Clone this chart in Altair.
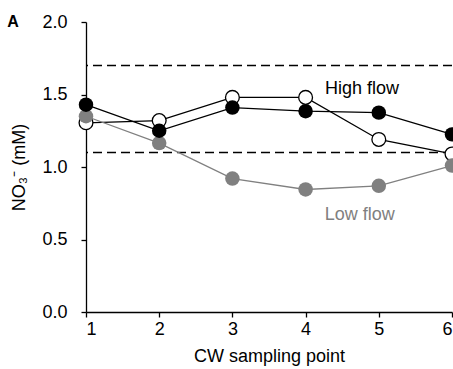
import altair as alt
import pandas as pd

points = [1, 2, 3, 4, 5, 6]
high_filled = [1.43, 1.25, 1.41, 1.385, 1.375, 1.225]
high_open = [1.305, 1.32, 1.48, 1.48, 1.19, 1.09]
low_flow = [1.35, 1.165, 0.92, 0.845, 0.87, 1.01]
thresholds = [1.1, 1.7]
y_ticks = [0.0, 0.5, 1.0, 1.5, 2.0]

FONT = "Liberation Sans"

df_f = pd.DataFrame({"x": points, "y": high_filled})
df_o = pd.DataFrame({"x": points, "y": high_open})
df_l = pd.DataFrame({"x": points, "y": low_flow})
df_t = pd.DataFrame({"y": thresholds})
df_lab = pd.DataFrame({
    "x": [4.77, 4.74],
    "y": [1.535, 0.67],
    "t": ["High flow", "Low flow"],
    "c": ["#000000", "#808080"],
})

xs = alt.Scale(domain=[1, 6], nice=False, zero=False)
ys = alt.Scale(domain=[0, 2], nice=False)

xax = alt.Axis(values=points, format="d", title="CW sampling point", grid=False,
               tickSize=5, labelPadding=3, titlePadding=9)
yax = alt.Axis(values=y_ticks, format=".1f", title="NO₃⁻ (mM)", grid=False,
               tickSize=5, labelPadding=14, titlePadding=13)

X = alt.X("x:Q", scale=xs, axis=xax)
Y = alt.Y("y:Q", scale=ys, axis=yax)

rules = alt.Chart(df_t).mark_rule(color="black", strokeDash=[9, 5], strokeWidth=1.3).encode(
    y=alt.Y("y:Q", scale=ys, axis=yax))

line_l = alt.Chart(df_l).mark_line(color="#808080", strokeWidth=1.3).encode(x=X, y=Y)
line_o = alt.Chart(df_o).mark_line(color="black", strokeWidth=1.3).encode(x=X, y=Y)
line_f = alt.Chart(df_f).mark_line(color="black", strokeWidth=1.3).encode(x=X, y=Y)

pt_o = alt.Chart(df_o).mark_point(shape="circle", size=190, filled=True, fill="white",
                                   stroke="black", strokeWidth=1.3, opacity=1).encode(x=X, y=Y)
pt_l = alt.Chart(df_l).mark_point(shape="circle", size=210, filled=True, color="#808080",
                                   opacity=1).encode(x=X, y=Y)
pt_f = alt.Chart(df_f).mark_point(shape="circle", size=210, filled=True, color="black",
                                   opacity=1).encode(x=X, y=Y)

labels = alt.Chart(df_lab).mark_text(font=FONT, fontSize=18, align="center", baseline="middle").encode(
    x=X, y=Y, text="t:N", color=alt.Color("c:N", scale=None))

panel = alt.Chart(pd.DataFrame({"t": ["A"]})).mark_text(
    font=FONT, fontSize=16, fontWeight="bold", align="center", baseline="middle").encode(
    x=alt.value(-73), y=alt.value(0), text="t:N")

chart = alt.layer(rules, line_o, line_l, line_f, pt_o, pt_l, pt_f, labels, panel).properties(
    width=366, height=290,
    autosize=alt.AutoSizeParams(type="none"),
    padding={"left": 86, "top": 22, "right": 1, "bottom": 57},
).configure_view(stroke=None).configure_axis(
    domainColor="black", tickColor="black", labelColor="black", titleColor="black",
    labelFont=FONT, titleFont=FONT, labelFontSize=18, titleFontSize=18,
    titleFontWeight="normal", domainWidth=1.3, tickWidth=1.3,
)

chart.save("out.html", embed_options={"renderer": "svg", "actions": False})
